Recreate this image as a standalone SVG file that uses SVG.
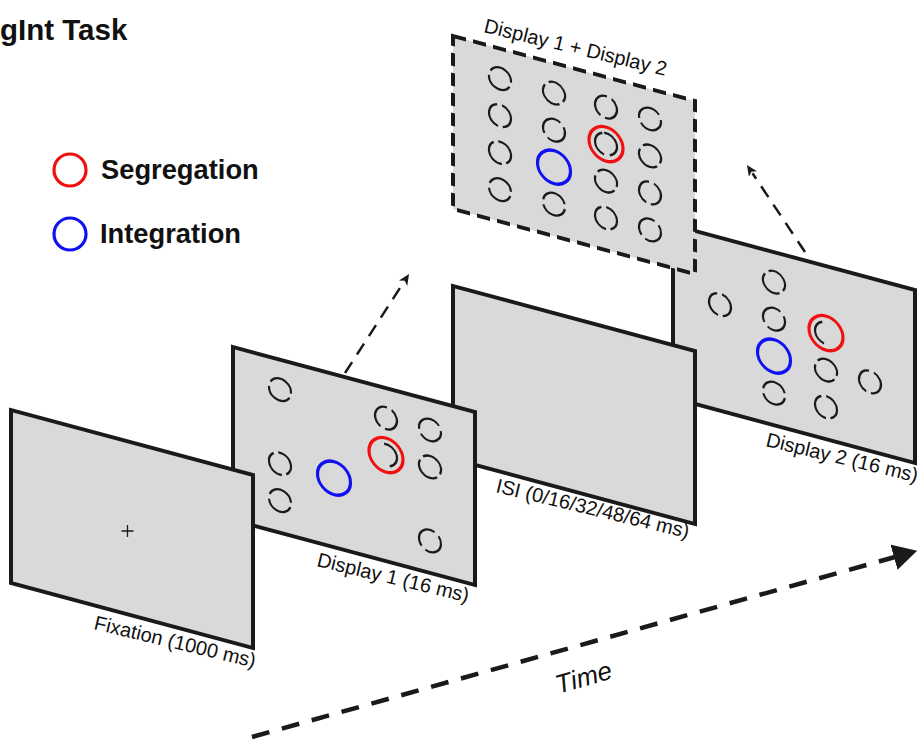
<svg xmlns="http://www.w3.org/2000/svg" xmlns:xlink="http://www.w3.org/1999/xlink" width="921" height="740" viewBox="0 0 921 740">
<style>
.panel{fill:#d9d9d9;stroke:#1a1a1a;stroke-width:4;stroke-linejoin:miter}
.dpanel{fill:#d9d9d9;stroke:#1a1a1a;stroke-width:4;stroke-dasharray:13 7}
.sc{fill:none;stroke:#1a1a1a;stroke-width:2.2;stroke-dasharray:29.5 5}
.arc{fill:none;stroke:#1a1a1a;stroke-width:2.2}
.red{fill:none;stroke:#f01010;stroke-width:3.2}
.blue{fill:none;stroke:#1010f0;stroke-width:3.2}
.lbl{font-family:"Liberation Sans",Arial,sans-serif;font-size:20px;fill:#111}
.leg{font-family:"Liberation Sans",Arial,sans-serif;font-size:27.3px;font-weight:bold;fill:#111}
.conn{fill:none;stroke:#1a1a1a;stroke-width:2.5;stroke-dasharray:13 9}
</style>
<defs>
<circle id="sc" r="11" class="sc"/>
<marker id="ah" markerUnits="userSpaceOnUse" viewBox="0 0 11 10" markerWidth="11" markerHeight="10" refX="1" refY="5" orient="auto">
<path d="M0,0 L11,5 L0,10 L3,5 z" fill="#1a1a1a"/>
</marker>
<marker id="ahT" markerUnits="userSpaceOnUse" viewBox="0 0 24 26" markerWidth="24" markerHeight="26" refX="1" refY="13" orient="auto">
<path d="M0,0 L24,13 L0,26 z" fill="#1a1a1a"/>
</marker>
</defs>

<text class="leg" x="0" y="40" style="font-size:29.5px">gInt Task</text>

<g id="legend">
<circle class="red" cx="70" cy="170" r="16"/>
<text class="leg" x="101" y="179">Segregation</text>
<circle class="blue" cx="70" cy="234" r="16"/>
<text class="leg" x="100" y="243">Integration</text>
</g>

<g id="display2">
<g transform="matrix(1 0.2686 0 1 673 225)">
<rect class="panel" x="0" y="0" width="242" height="173"/>
<use href="#sc" transform="translate(47 67) rotate(100)"/>
<use href="#sc" transform="translate(101 30) rotate(60)"/>
<use href="#sc" transform="translate(101 67) rotate(150)"/>
<use href="#sc" transform="translate(101 141) rotate(10)"/>
<use href="#sc" transform="translate(153 104) rotate(40)"/>
<use href="#sc" transform="translate(153 141) rotate(90)"/>
<use href="#sc" transform="translate(197 104) rotate(110)"/>
<circle class="blue" cx="101" cy="104" r="16.5"/>
<circle class="red" cx="153" cy="67" r="17"/>
<path class="arc" d="M151.09,77.83 A11,11 0 0 1 149.24,56.66"/>
</g>
<text class="lbl" transform="translate(765 446) rotate(13.5)">Display 2 (16 ms)</text>
</g>

<g id="combined">
<g transform="matrix(1 0.2686 0 1 453 36)">
<rect class="dpanel" x="0" y="0" width="242" height="173"/>
<use href="#sc" transform="translate(47 30) rotate(30)"/>
<use href="#sc" transform="translate(47 67) rotate(100)"/>
<use href="#sc" transform="translate(47 104) rotate(80)"/>
<use href="#sc" transform="translate(47 141) rotate(20)"/>
<use href="#sc" transform="translate(101 30) rotate(60)"/>
<use href="#sc" transform="translate(101 67) rotate(150)"/>
<use href="#sc" transform="translate(101 141) rotate(10)"/>
<use href="#sc" transform="translate(153 30) rotate(120)"/>
<use href="#sc" transform="translate(153 104) rotate(40)"/>
<use href="#sc" transform="translate(153 141) rotate(90)"/>
<use href="#sc" transform="translate(197 30) rotate(170)"/>
<use href="#sc" transform="translate(197 67) rotate(50)"/>
<use href="#sc" transform="translate(197 104) rotate(110)"/>
<use href="#sc" transform="translate(197 141) rotate(140)"/>
<circle class="blue" cx="101" cy="104" r="16.5"/>
<circle class="red" cx="153" cy="67" r="17"/>
<path class="arc" d="M151.09,56.17 A11,11 0 0 1 156.76,77.34"/>
<path class="arc" d="M151.09,77.83 A11,11 0 0 1 149.24,56.66"/>
</g>
<text class="lbl" transform="translate(483 32) rotate(13.5)">Display 1 + Display 2</text>
</g>

<g id="isi">
<g transform="matrix(1 0.2686 0 1 453 286)">
<rect class="panel" x="0" y="0" width="242" height="173"/>
</g>
<text class="lbl" transform="translate(495 492) rotate(13.5)">ISI (0/16/32/48/64 ms)</text>
</g>

<g id="display1">
<g transform="matrix(1 0.2686 0 1 233 347)">
<rect class="panel" x="0" y="0" width="242" height="173"/>
<use href="#sc" transform="translate(47 30) rotate(30)"/>
<use href="#sc" transform="translate(47 104) rotate(80)"/>
<use href="#sc" transform="translate(47 141) rotate(20)"/>
<use href="#sc" transform="translate(153 30) rotate(120)"/>
<use href="#sc" transform="translate(197 30) rotate(170)"/>
<use href="#sc" transform="translate(197 67) rotate(50)"/>
<use href="#sc" transform="translate(197 141) rotate(140)"/>
<circle class="blue" cx="101" cy="104" r="16.5"/>
<circle class="red" cx="153" cy="67" r="17"/>
<path class="arc" d="M151.09,56.17 A11,11 0 0 1 156.76,77.34"/>
</g>
<text class="lbl" transform="translate(316 566) rotate(13.5)">Display 1 (16 ms)</text>
</g>

<g id="fixation">
<g transform="matrix(1 0.2686 0 1 11 410)">
<rect class="panel" x="0" y="0" width="242" height="173"/>
</g>
<path d="M121.5,531 H133.5 M127.5,525 V537" stroke="#1a1a1a" stroke-width="1.3" fill="none"/>
<text class="lbl" transform="translate(93 629) rotate(13.5)">Fixation (1000 ms)</text>
</g>

<g id="connectors">
<line class="conn" x1="345" y1="373" x2="403.6" y2="282.4" marker-end="url(#ah)"/>
<line class="conn" x1="805" y1="252" x2="752.5" y2="173.3" marker-end="url(#ah)"/>
<line x1="252" y1="737" x2="895" y2="557" stroke="#1a1a1a" stroke-width="4.5" stroke-dasharray="18 13" marker-end="url(#ahT)"/>
<text transform="translate(586 686) rotate(-15.8)" text-anchor="middle" style="font-family:'Liberation Sans',Arial,sans-serif;font-size:26px;font-style:italic;fill:#111">Time</text>
</g>
</svg>
